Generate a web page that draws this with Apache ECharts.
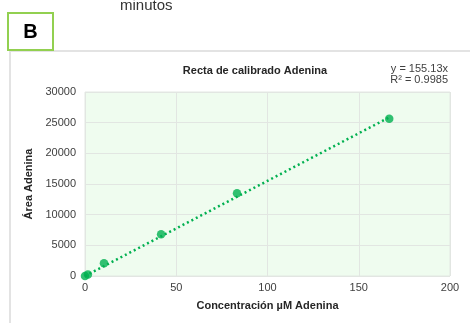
<!DOCTYPE html>
<html>
<head>
<meta charset="utf-8">
<script src="https://cdn.jsdelivr.net/npm/echarts@6/dist/echarts.min.js"></script>
<style>
  html, body { margin: 0; padding: 0; background: #ffffff; }
  #chart { width: 470px; height: 323px; }
</style>
</head>
<body>
<div id="chart"></div>
<script>
// Calibration standards: concentration (µM) and peak area
const concentration = [0, 1.6, 10.4, 41.7, 83.3, 166.7];
const area = [0, 250, 2070, 6800, 13500, 25640];

// Linear fit through the origin
const slope = 155.13;
const rSquared = '0.9985';
const fitRange = [0, 166.7];

const xTicks = [0, 50, 100, 150, 200];
const yTicks = [0, 5000, 10000, 15000, 20000, 25000, 30000];

const points = concentration.map((c, i) => [c, area[i]]);
const fitLine = fitRange.map(x => [x, slope * x]);

const green = '#00b050';
const font = "'Liberation Sans', Arial, sans-serif";

const chart = echarts.init(document.getElementById('chart'), null, { renderer: 'canvas' });
chart.setOption({
  animation: false,
  backgroundColor: '#ffffff',
  textStyle: { fontFamily: font },
  title: {
    text: 'Recta de calibrado Adenina',
    left: 250, top: 60, textAlign: 'center',
    textStyle: { fontSize: 11, fontWeight: 'bold', color: '#262626', fontFamily: font }
  },
  graphic: [
    { type: 'text', left: 120, top: -2,
      style: { text: 'minutos', font: '15px ' + font, fill: '#333333' } },
    { type: 'line', shape: { x1: 10, y1: 51, x2: 470, y2: 51 },
      style: { stroke: '#e3e3e3', lineWidth: 2 } },
    { type: 'line', shape: { x1: 10, y1: 51, x2: 10, y2: 323 },
      style: { stroke: '#e3e3e3', lineWidth: 2 } },
    { type: 'rect', shape: { x: 8, y: 13, width: 45, height: 37 },
      style: { fill: '#ffffff', stroke: '#92d050', lineWidth: 2 } },
    { type: 'text', x: 30.5, y: 32,
      style: { text: 'B', font: 'bold 20px ' + font, fill: '#000000', align: 'center', verticalAlign: 'middle' } },
    { type: 'text', x: 448, y: 63,
      style: { text: 'y = ' + slope + 'x\nR² = ' + rSquared, font: '11px ' + font, fill: '#404040',
               align: 'right', lineHeight: 11 } }
  ],
  grid: {
    left: 85, right: 20, top: 92, bottom: 47,
    show: true, backgroundColor: '#effcef', borderColor: '#e2e8e2', borderWidth: 1
  },
  xAxis: {
    type: 'value', min: xTicks[0], max: xTicks[xTicks.length - 1], interval: 50,
    name: 'Concentración µM Adenina', nameLocation: 'middle', nameGap: 24,
    nameTextStyle: { fontSize: 11, fontWeight: 'bold', color: '#262626' },
    axisLine: { show: false }, axisTick: { show: false },
    axisLabel: { fontSize: 11, color: '#404040', margin: 6 },
    splitLine: { lineStyle: { color: '#e2e6e2', width: 1 } }
  },
  yAxis: {
    type: 'value', min: yTicks[0], max: yTicks[yTicks.length - 1], interval: 5000,
    name: 'Área Adenina', nameLocation: 'middle', nameGap: 41,
    nameTextStyle: { fontSize: 11, fontWeight: 'bold', color: '#262626' },
    axisLine: { show: false }, axisTick: { show: false },
    axisLabel: { fontSize: 11, color: '#404040', margin: 9, formatter: v => String(v) },
    splitLine: { lineStyle: { color: '#e2e6e2', width: 1 } }
  },
  series: [
    {
      type: 'line', data: fitLine, showSymbol: false, silent: true,
      lineStyle: { color: green, width: 2.5, type: [2, 3] }
    },
    {
      type: 'scatter', data: points, symbol: 'circle', symbolSize: 8.5,
      itemStyle: { color: green }
    }
  ]
});
</script>
</body>
</html>
